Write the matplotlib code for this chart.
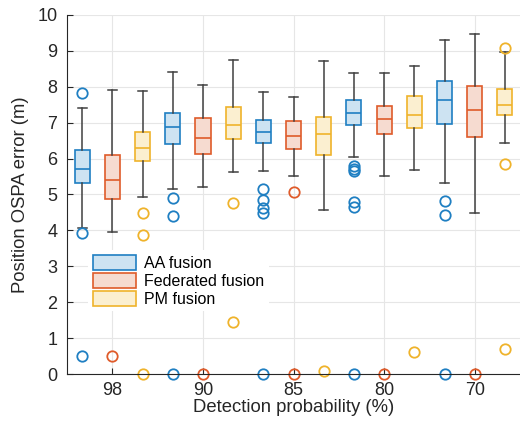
import matplotlib.pyplot as plt
from matplotlib.patches import Patch

plt.rcParams['font.family'] = ['Liberation Sans', 'DejaVu Sans']

# ---------- Données ----------
groupes = ["98", "90", "85", "80", "70"]
methodes = ["AA fusion", "Federated fusion", "PM fusion"]
couleurs = ["#1f7fc2", "#df5b2a", "#efb32b"]
remplissage = ["#cde3f2", "#f6dbd0", "#fbefd0"]

# ordre : pour chaque groupe -> AA, Federated, PM
mediane = [5.72, 5.41, 6.30, 6.87, 6.57, 6.94, 6.74, 6.62, 6.67,
           7.28, 7.09, 7.21, 7.62, 7.35, 7.49]
q1 = [5.32, 4.88, 5.92, 6.40, 6.14, 6.54, 6.44, 6.26, 6.09,
      6.94, 6.68, 6.85, 6.97, 6.60, 7.20]
q3 = [6.24, 6.10, 6.73, 7.26, 7.12, 7.43, 7.08, 7.04, 7.17,
      7.63, 7.46, 7.75, 8.17, 8.03, 7.93]
moust_bas = [4.06, 3.96, 4.93, 5.16, 5.20, 5.63, 5.65, 5.52, 4.57,
             6.04, 5.52, 5.69, 5.31, 4.49, 6.43]
moust_haut = [7.40, 7.91, 7.89, 8.42, 8.05, 8.75, 7.86, 7.71, 8.72,
              8.39, 8.37, 8.59, 9.29, 9.46, 8.98]
aberrants = [
    [7.82, 3.94, 0.50], [0.50], [4.48, 3.88, 0.0],
    [4.90, 4.39, 0.0], [0.0], [4.76, 1.45],
    [5.14, 4.85, 4.61, 4.49, 0.0], [5.07, 0.0], [0.08],
    [5.80, 5.72, 5.65, 4.80, 4.64, 0.0], [0.0], [0.60],
    [4.82, 4.43, 0.0], [0.0], [9.08, 5.85, 0.70],
]

# ---------- Figure ----------
fig = plt.figure(figsize=(5.2, 4.26), dpi=100)
ax = fig.add_axes([0.129, 0.122, 0.871, 0.843])

gris = "#404040"
for i in range(len(mediane)):
    k = i % 3
    stats = [dict(med=mediane[i], q1=q1[i], q3=q3[i],
                  whislo=moust_bas[i], whishi=moust_haut[i],
                  fliers=aberrants[i])]
    ax.bxp(stats, positions=[i + 1], widths=0.5, capwidths=0.3,
           patch_artist=True, manage_ticks=False,
           boxprops=dict(facecolor=remplissage[k], edgecolor=couleurs[k], linewidth=1.2),
           medianprops=dict(color=couleurs[k], linewidth=1.2),
           whiskerprops=dict(color=gris, linewidth=1.1),
           capprops=dict(color=gris, linewidth=1.1),
           flierprops=dict(marker="o", markerfacecolor="none",
                           markeredgecolor=couleurs[k], markersize=7.5,
                           markeredgewidth=1.3, clip_on=False))

# ---------- Axes ----------
ax.set_xlim(0.5, 15.5)
ax.set_ylim(0, 10)
ax.set_xticks([2, 5, 8, 11, 14])
ax.set_xticklabels(groupes)
ax.set_yticks(range(0, 11))
ax.tick_params(direction="in", labelsize=13, colors="#262626", length=4)
ax.tick_params(axis="y", pad=7)
ax.tick_params(axis="x", pad=6)
ax.grid(True, color="#e6e6e6", linewidth=0.8)
ax.set_axisbelow(True)
for s in ["top", "right"]:
    ax.spines[s].set_visible(False)
for s in ["left", "bottom"]:
    ax.spines[s].set_color("#262626")
    ax.spines[s].set_linewidth(0.8)

ax.set_xlabel("Detection probability (%)", fontsize=13.3, color="#262626", labelpad=0)
ax.set_ylabel("Position OSPA error (m)", fontsize=13.3, color="#262626", labelpad=6)

poignees = [Patch(facecolor=remplissage[k], edgecolor=couleurs[k], linewidth=1.2)
            for k in range(3)]
ax.legend(poignees, methodes, loc="upper left", bbox_to_anchor=(0.04, 0.355),
          fontsize=11.5, frameon=True, edgecolor="none", facecolor="white",
          framealpha=1, handlelength=2.7, handleheight=1.1,
          labelspacing=0.12, borderpad=0.3, handletextpad=0.5, borderaxespad=0.2)

fig.savefig("out.png", dpi=100)
